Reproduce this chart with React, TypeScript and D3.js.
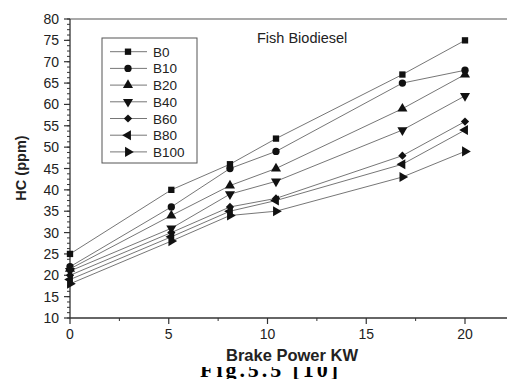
import React from "react";
import * as d3 from "d3";

const xValues = [0, 5.13, 8.1, 10.43, 16.83, 20];
const seriesNames = ["B0", "B10", "B20", "B40", "B60", "B80", "B100"];
const B0 = [25, 40, 46, 52, 67, 75];
const B10 = [22, 36, 45, 49, 65, 68];
const B20 = [21.5, 34, 41, 45, 59, 67];
const B40 = [21, 31, 39, 42, 54, 62];
const B60 = [20, 30, 36, 38, 48, 56];
const B80 = [19, 29, 35, 37.5, 46, 54];
const B100 = [18, 28, 34, 35, 43, 49];
const seriesValues = [B0, B10, B20, B40, B60, B80, B100];
const xTicks = [0, 5, 10, 15, 20];
const yTicks = [10, 15, 20, 25, 30, 35, 40, 45, 50, 55, 60, 65, 70, 75, 80];

const W = 507;
const H = 379;

function markerPath(i: number): { d: string; rot: number } {
  const s = d3.symbol();
  switch (i) {
    case 0:
      return { d: s.type(d3.symbolSquare).size(40)() as string, rot: 0 };
    case 1:
      return { d: s.type(d3.symbolCircle).size(42)() as string, rot: 0 };
    case 2:
      return { d: s.type(d3.symbolTriangle).size(44)() as string, rot: 0 };
    case 3:
      return { d: s.type(d3.symbolTriangle).size(44)() as string, rot: 180 };
    case 4:
      return { d: s.type(d3.symbolSquare).size(34)() as string, rot: 45 };
    case 5:
      return { d: s.type(d3.symbolTriangle).size(44)() as string, rot: -90 };
    default:
      return { d: s.type(d3.symbolTriangle).size(44)() as string, rot: 90 };
  }
}

export default function App() {
  const x = d3.scaleLinear().domain([0, 20]).range([70, 465]);
  const y = d3.scaleLinear().domain([10, 80]).range([318, 19]);
  const line = d3
    .line<number>()
    .x((_, i) => x(xValues[i]))
    .y((v) => y(v));

  const yMinor: number[] = d3.range(10, 80.01, 1.25);
  const xMinor = [2.5, 7.5, 12.5, 17.5];
  const font = "Liberation Sans, Arial, sans-serif";
  const lineColor = "#666";

  return (
    <svg
      width={W}
      height={H}
      style={{ position: "absolute", left: 0, top: 0, background: "#fff" }}
    >
      <rect x={0} y={0} width={W} height={H} fill="#fff" />
      {/* frame */}
      <line x1={70} x2={W} y1={y(80)} y2={y(80)} stroke="#555" strokeWidth={1.2} />
      <line x1={70} x2={70} y1={y(80)} y2={y(10)} stroke="#333" strokeWidth={1.3} />
      <line x1={70} x2={W} y1={y(10)} y2={y(10)} stroke="#333" strokeWidth={1.3} />

      {/* y ticks */}
      {yMinor.map((v, i) => (
        <line key={"ym" + i} x1={70} x2={67} y1={y(v)} y2={y(v)} stroke="#333" strokeWidth={1} />
      ))}
      {yTicks.map((v) => (
        <g key={"y" + v}>
          <line x1={70} x2={64} y1={y(v)} y2={y(v)} stroke="#333" strokeWidth={1.2} />
          <text
            x={59}
            y={y(v) + 5}
            textAnchor="end"
            fontFamily={font}
            fontSize={14}
            fill="#222"
          >
            {v}
          </text>
        </g>
      ))}

      {/* x ticks */}
      {xMinor.map((v) => (
        <line key={"xm" + v} x1={x(v)} x2={x(v)} y1={y(10)} y2={y(10) + 3} stroke="#333" strokeWidth={1} />
      ))}
      {xTicks.map((v) => (
        <g key={"x" + v}>
          <line x1={x(v)} x2={x(v)} y1={y(10)} y2={y(10) + 6} stroke="#333" strokeWidth={1.2} />
          <text
            x={x(v)}
            y={339}
            textAnchor="middle"
            fontFamily={font}
            fontSize={14}
            fill="#222"
          >
            {v}
          </text>
        </g>
      ))}

      {/* series */}
      {seriesValues.map((vals, si) => {
        const m = markerPath(si);
        return (
          <g key={"s" + si}>
            <path d={line(vals) as string} fill="none" stroke={lineColor} strokeWidth={0.9} />
            {vals.map((v, i) => (
              <path
                key={i}
                d={m.d}
                transform={`translate(${x(xValues[i])},${y(v)}) rotate(${m.rot})`}
                fill="#111"
              />
            ))}
          </g>
        );
      })}

      {/* legend */}
      <rect x={102} y={38} width={95} height={125} fill="#fff" stroke="#555" strokeWidth={1} />
      {seriesNames.map((name, i) => {
        const ry = 51.7 + i * 16.7;
        const m = markerPath(i);
        return (
          <g key={"l" + name}>
            <line x1={110} x2={147} y1={ry} y2={ry} stroke={lineColor} strokeWidth={0.9} />
            <path d={m.d} transform={`translate(128,${ry}) rotate(${m.rot})`} fill="#111" />
            <text x={153} y={ry + 5} fontFamily={font} fontSize={13.5} fill="#222">
              {name}
            </text>
          </g>
        );
      })}

      <text x={257} y={43} fontFamily={font} fontSize={14.5} fill="#222">
        Fish Biodiesel
      </text>

      {/* axis titles */}
      <text
        transform="translate(26,168) rotate(-90)"
        textAnchor="middle"
        fontFamily={font}
        fontSize={14.5}
        fontWeight="bold"
        fill="#222"
      >
        HC (ppm)
      </text>

      {/* caption, upper part hidden as in the source */}
      <text
        x={200}
        y={377}
        fontFamily="Liberation Serif, Times New Roman, serif"
        fontSize={22}
        fontWeight="bold"
        textLength={138}
        fill="#000"
      >
        Fig.5.5 [10]
      </text>
      <rect x={150} y={345} width={250} height={22} fill="#fff" />

      <text
        x={292}
        y={361}
        textAnchor="middle"
        fontFamily={font}
        fontSize={16.5}
        fontWeight="bold"
        fill="#222"
      >
        Brake Power KW
      </text>
    </svg>
  );
}
